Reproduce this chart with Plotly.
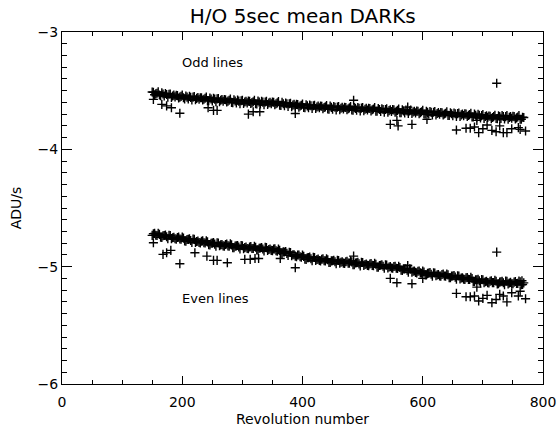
import plotly.graph_objects as go

# Revolution numbers sampled along the two bands (two interleaved sets)
revolution = [
    150, 154, 158, 162, 166, 170, 174, 178, 182, 186,
    190, 194, 198, 202, 206, 210, 214, 218, 222, 226,
    230, 234, 238, 242, 246, 250, 254, 258, 262, 266,
    270, 274, 278, 282, 286, 290, 294, 298, 302, 306,
    310, 314, 318, 322, 326, 330, 334, 338, 342, 346,
    350, 354, 358, 362, 366, 370, 374, 378, 382, 386,
    390, 394, 398, 402, 406, 410, 414, 418, 422, 426,
    430, 434, 438, 442, 446, 450, 454, 458, 462, 466,
    470, 474, 478, 482, 486, 490, 494, 498, 502, 506,
    510, 514, 518, 522, 526, 530, 534, 538, 542, 546,
    550, 554, 558, 562, 566, 570, 574, 578, 582, 586,
    590, 594, 598, 602, 606, 610, 614, 618, 622, 626,
    630, 634, 638, 642, 646, 650, 654, 658, 662, 666,
    670, 674, 678, 682, 686, 690, 694, 698, 702, 706,
    710, 714, 718, 722, 726, 730, 734, 738, 742, 746,
    750, 754, 758, 762, 766,
]
revolution_b = [
    152, 156, 160, 164, 168, 172, 176, 180, 184, 188,
    192, 196, 200, 204, 208, 212, 216, 220, 224, 228,
    232, 236, 240, 244, 248, 252, 256, 260, 264, 268,
    272, 276, 280, 284, 288, 292, 296, 300, 304, 308,
    312, 316, 320, 324, 328, 332, 336, 340, 344, 348,
    352, 356, 360, 364, 368, 372, 376, 380, 384, 388,
    392, 396, 400, 404, 408, 412, 416, 420, 424, 428,
    432, 436, 440, 444, 448, 452, 456, 460, 464, 468,
    472, 476, 480, 484, 488, 492, 496, 500, 504, 508,
    512, 516, 520, 524, 528, 532, 536, 540, 544, 548,
    552, 556, 560, 564, 568, 572, 576, 580, 584, 588,
    592, 596, 600, 604, 608, 612, 616, 620, 624, 628,
    632, 636, 640, 644, 648, 652, 656, 660, 664, 668,
    672, 676, 680, 684, 688, 692, 696, 700, 704, 708,
    712, 716, 720, 724, 728, 732, 736, 740, 744, 748,
    752, 756, 760, 764, 768,
]

odd_lines = [
    -3.512, -3.535, -3.522, -3.537, -3.518, -3.546, -3.533, -3.531, -3.557, -3.538,
    -3.540, -3.563, -3.549, -3.561, -3.545, -3.570, -3.557, -3.555, -3.578, -3.558,
    -3.560, -3.580, -3.565, -3.585, -3.562, -3.588, -3.572, -3.570, -3.594, -3.575,
    -3.575, -3.597, -3.582, -3.600, -3.578, -3.604, -3.589, -3.586, -3.609, -3.590,
    -3.589, -3.610, -3.594, -3.612, -3.588, -3.614, -3.598, -3.596, -3.618, -3.600,
    -3.597, -3.620, -3.604, -3.624, -3.600, -3.628, -3.612, -3.611, -3.636, -3.617,
    -3.617, -3.640, -3.624, -3.643, -3.620, -3.645, -3.629, -3.628, -3.652, -3.632,
    -3.631, -3.653, -3.638, -3.656, -3.632, -3.657, -3.641, -3.640, -3.662, -3.642,
    -3.641, -3.663, -3.647, -3.665, -3.643, -3.666, -3.650, -3.649, -3.671, -3.651,
    -3.650, -3.672, -3.656, -3.675, -3.652, -3.677, -3.661, -3.660, -3.683, -3.663,
    -3.662, -3.684, -3.668, -3.687, -3.664, -3.689, -3.673, -3.672, -3.695, -3.675,
    -3.674, -3.696, -3.680, -3.699, -3.676, -3.701, -3.685, -3.684, -3.707, -3.687,
    -3.686, -3.708, -3.692, -3.711, -3.688, -3.713, -3.697, -3.696, -3.719, -3.699,
    -3.698, -3.720, -3.704, -3.723, -3.700, -3.725, -3.710, -3.712, -3.737, -3.714,
    -3.716, -3.738, -3.721, -3.737, -3.715, -3.736, -3.720, -3.721, -3.744, -3.721,
    -3.719, -3.741, -3.725, -3.744, -3.726,
]
odd_lines_b = [
    -3.514, -3.527, -3.510, -3.543, -3.529, -3.524, -3.555, -3.528, -3.545, -3.553,
    -3.542, -3.555, -3.538, -3.570, -3.555, -3.549, -3.579, -3.550, -3.566, -3.573,
    -3.561, -3.573, -3.554, -3.586, -3.571, -3.565, -3.595, -3.567, -3.582, -3.590,
    -3.577, -3.589, -3.571, -3.602, -3.588, -3.581, -3.611, -3.582, -3.597, -3.604,
    -3.591, -3.602, -3.582, -3.613, -3.598, -3.591, -3.620, -3.590, -3.605, -3.612,
    -3.599, -3.611, -3.593, -3.625, -3.611, -3.605, -3.635, -3.607, -3.623, -3.631,
    -3.619, -3.631, -3.613, -3.645, -3.630, -3.623, -3.652, -3.624, -3.639, -3.646,
    -3.633, -3.644, -3.626, -3.657, -3.642, -3.635, -3.664, -3.635, -3.650, -3.656,
    -3.643, -3.654, -3.635, -3.666, -3.651, -3.643, -3.672, -3.643, -3.658, -3.665,
    -3.652, -3.663, -3.644, -3.676, -3.661, -3.654, -3.683, -3.654, -3.670, -3.677,
    -3.664, -3.675, -3.656, -3.688, -3.673, -3.666, -3.695, -3.666, -3.682, -3.689,
    -3.676, -3.687, -3.668, -3.700, -3.685, -3.678, -3.707, -3.678, -3.694, -3.701,
    -3.688, -3.699, -3.680, -3.712, -3.697, -3.690, -3.719, -3.690, -3.706, -3.713,
    -3.700, -3.711, -3.692, -3.724, -3.709, -3.702, -3.732, -3.704, -3.720, -3.728,
    -3.718, -3.729, -3.709, -3.738, -3.721, -3.713, -3.742, -3.713, -3.728, -3.735,
    -3.721, -3.732, -3.713, -3.744, -3.729,
]

even_lines = [
    -4.733, -4.716, -4.734, -4.725, -4.750, -4.735, -4.745, -4.733, -4.761, -4.750,
    -4.765, -4.748, -4.766, -4.757, -4.782, -4.767, -4.777, -4.765, -4.793, -4.782,
    -4.797, -4.780, -4.798, -4.789, -4.814, -4.799, -4.808, -4.796, -4.822, -4.811,
    -4.825, -4.807, -4.825, -4.814, -4.839, -4.823, -4.832, -4.820, -4.846, -4.833,
    -4.847, -4.829, -4.845, -4.834, -4.857, -4.841, -4.850, -4.836, -4.862, -4.849,
    -4.863, -4.848, -4.868, -4.861, -4.888, -4.875, -4.887, -4.877, -4.907, -4.898,
    -4.915, -4.900, -4.920, -4.912, -4.938, -4.923, -4.933, -4.920, -4.947, -4.936,
    -4.951, -4.934, -4.951, -4.941, -4.965, -4.949, -4.958, -4.945, -4.970, -4.958,
    -4.972, -4.954, -4.970, -4.959, -4.983, -4.967, -4.976, -4.963, -4.989, -4.977,
    -4.991, -4.973, -4.991, -4.980, -5.004, -4.988, -4.997, -4.985, -5.011, -4.999,
    -5.013, -4.997, -5.016, -5.007, -5.033, -5.019, -5.030, -5.019, -5.047, -5.037,
    -5.053, -5.037, -5.056, -5.046, -5.071, -5.055, -5.064, -5.052, -5.078, -5.067,
    -5.081, -5.063, -5.081, -5.070, -5.095, -5.079, -5.089, -5.077, -5.105, -5.094,
    -5.109, -5.092, -5.110, -5.101, -5.126, -5.111, -5.121, -5.109, -5.136, -5.124,
    -5.138, -5.120, -5.136, -5.124, -5.146, -5.129, -5.137, -5.122, -5.147, -5.134,
    -5.146, -5.127, -5.142, -5.130, -5.152,
]
even_lines_b = [
    -4.719, -4.732, -4.715, -4.749, -4.736, -4.731, -4.762, -4.735, -4.753, -4.762,
    -4.751, -4.764, -4.747, -4.781, -4.768, -4.763, -4.794, -4.767, -4.785, -4.794,
    -4.783, -4.796, -4.779, -4.813, -4.800, -4.795, -4.825, -4.798, -4.814, -4.823,
    -4.811, -4.823, -4.806, -4.838, -4.825, -4.819, -4.849, -4.822, -4.838, -4.845,
    -4.833, -4.845, -4.826, -4.858, -4.843, -4.837, -4.867, -4.838, -4.854, -4.861,
    -4.849, -4.864, -4.849, -4.885, -4.874, -4.871, -4.904, -4.879, -4.899, -4.910,
    -4.901, -4.916, -4.901, -4.936, -4.924, -4.919, -4.950, -4.922, -4.939, -4.948,
    -4.937, -4.950, -4.932, -4.965, -4.951, -4.945, -4.975, -4.947, -4.962, -4.970,
    -4.958, -4.970, -4.951, -4.983, -4.969, -4.963, -4.993, -4.965, -4.981, -4.989,
    -4.977, -4.989, -4.972, -5.004, -4.990, -4.984, -5.014, -4.987, -5.003, -5.011,
    -4.999, -5.013, -4.997, -5.031, -5.019, -5.015, -5.047, -5.021, -5.039, -5.049,
    -5.039, -5.053, -5.037, -5.070, -5.057, -5.051, -5.081, -5.054, -5.070, -5.079,
    -5.067, -5.079, -5.062, -5.094, -5.081, -5.075, -5.106, -5.079, -5.097, -5.106,
    -5.095, -5.108, -5.091, -5.125, -5.112, -5.107, -5.138, -5.111, -5.128, -5.136,
    -5.124, -5.136, -5.117, -5.148, -5.132, -5.125, -5.154, -5.124, -5.139, -5.146,
    -5.132, -5.143, -5.123, -5.154, -5.138,
]

# Scattered points away from the main bands
odd_extra_rev = [152, 166, 174, 182, 196, 243, 252, 258, 310, 318, 329, 388, 485,
                 546, 557, 559, 575, 582, 607, 656, 672, 679, 686, 690, 693, 700,
                 707, 715, 722, 723, 728, 734, 740, 748, 759, 762, 771]
odd_extra_adu = [-3.574, -3.617, -3.630, -3.645, -3.693, -3.645, -3.668, -3.668,
                 -3.700, -3.680, -3.680, -3.695, -3.582, -3.787, -3.753, -3.800,
                 -3.640, -3.787, -3.745, -3.835, -3.820, -3.820, -3.810, -3.753,
                 -3.858, -3.824, -3.793, -3.838, -3.850, -3.437, -3.800, -3.858,
                 -3.858, -3.824, -3.815, -3.830, -3.844]

even_extra_rev = [152, 168, 174, 181, 196, 221, 241, 252, 258, 275, 304, 313, 321,
                  327, 363, 388, 485, 546, 557, 575, 582, 600, 656, 672, 679, 686,
                  690, 693, 700, 707, 715, 722, 723, 728, 734, 740, 748, 759, 762,
                  765, 771]
even_extra_adu = [-4.796, -4.895, -4.882, -4.861, -4.975, -4.882, -4.910, -4.946,
                  -4.946, -4.966, -4.938, -4.938, -4.930, -4.930, -4.930, -5.009,
                  -4.910, -5.100, -5.137, -4.990, -5.145, -5.100, -5.228, -5.257,
                  -5.257, -5.250, -5.174, -5.293, -5.270, -5.245, -5.308, -5.280,
                  -4.876, -5.236, -5.250, -5.300, -5.222, -5.250, -5.210, -5.120,
                  -5.273]

x_ticks = [0, 200, 400, 600, 800]
y_ticks = [-6, -5, -4, -3]

FONT = "DejaVu Sans"
marker = dict(symbol="cross-thin-open", size=6.5, color="black",
              line=dict(color="black", width=1.4))

fig = go.Figure()
fig.add_trace(go.Scatter(x=revolution + revolution_b + odd_extra_rev,
                         y=odd_lines + odd_lines_b + odd_extra_adu,
                         mode="markers", marker=marker, name="Odd lines",
                         showlegend=False))
fig.add_trace(go.Scatter(x=revolution + revolution_b + even_extra_rev,
                         y=even_lines + even_lines_b + even_extra_adu,
                         mode="markers", marker=marker, name="Even lines",
                         showlegend=False))

fig.add_annotation(x=251, y=-3.262, text="Odd lines", showarrow=False,
                   font=dict(family=FONT, size=13, color="black"))
fig.add_annotation(x=256, y=-5.27, text="Even lines", showarrow=False,
                   font=dict(family=FONT, size=13, color="black"))

axis_common = dict(
    showgrid=False, zeroline=False, showline=True, linecolor="black",
    linewidth=1, mirror="ticks", ticks="inside", tickcolor="black",
    tickwidth=1, tickfont=dict(family=FONT, size=14, color="black"),
    automargin=False, ticklabeloverflow="allow",
)

fig.update_xaxes(range=[0, 800], tickvals=x_ticks, ticklen=8,
                 minor=dict(dtick=50, ticks="inside", ticklen=4, tickcolor="black"),
                 title=dict(text="Revolution number", standoff=5,
                            font=dict(family=FONT, size=14, color="black")),
                 ticklabelstandoff=5, **axis_common)
fig.update_yaxes(range=[-6, -3], tickvals=y_ticks, ticklen=10,
                 minor=dict(dtick=0.1, ticks="inside", ticklen=5, tickcolor="black"),
                 title=dict(text="ADU/s", standoff=12,
                            font=dict(family=FONT, size=14, color="black")),
                 **axis_common)

fig.update_layout(
    width=557, height=427,
    margin=dict(l=62, r=14, t=32, b=43),
    paper_bgcolor="white", plot_bgcolor="white",
    title=dict(text="H/O 5sec mean DARKs", x=0.5435, xanchor="center",
               y=0.963, yanchor="middle",
               font=dict(family=FONT, size=20, color="black")),
)

fig.write_html("out.html", config={"displayModeBar": False},
               post_script="document.body.style.margin='0';")
